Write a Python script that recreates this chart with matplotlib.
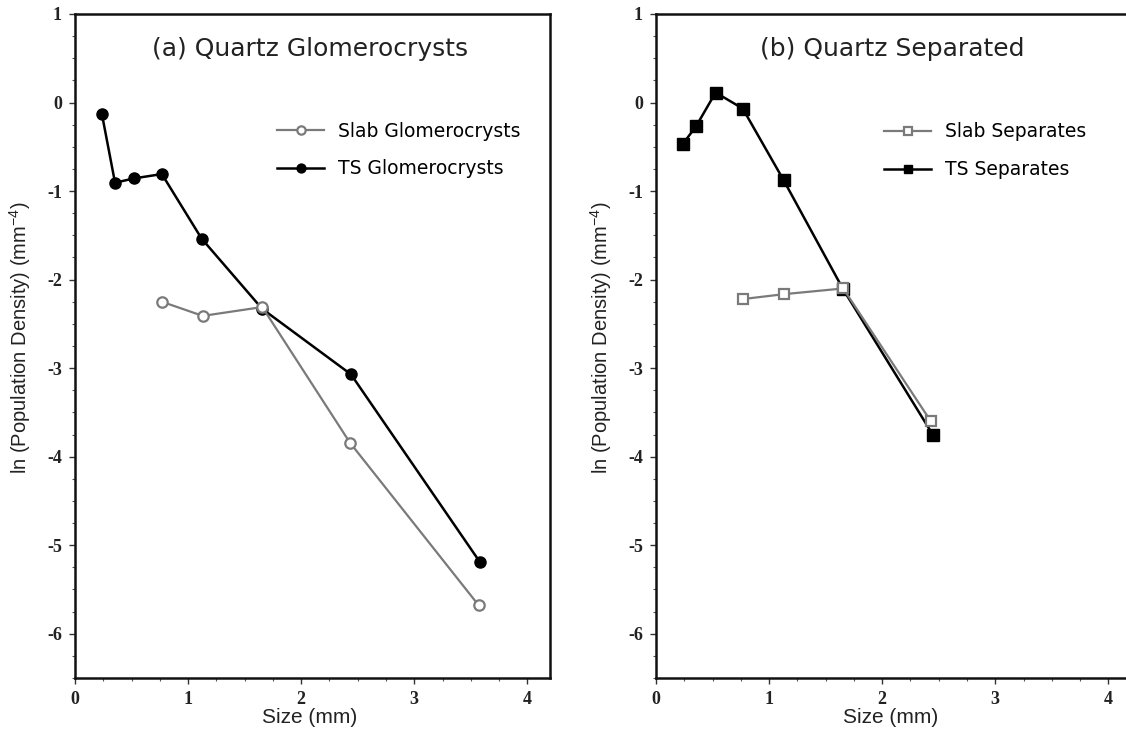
import matplotlib
matplotlib.use("Agg")
import matplotlib.pyplot as plt
from matplotlib.ticker import MultipleLocator

plt.rcParams['axes.unicode_minus'] = False
plt.rcParams['mathtext.default'] = 'regular'

# ---- data ----
ts_glom_x = [0.237, 0.354, 0.521, 0.768, 1.12, 1.655, 2.44, 3.58]
ts_glom_y = [-0.124, -0.906, -0.857, -0.808, -1.538, -2.33, -3.07, -5.19]
slab_glom_x = [0.768, 1.13, 1.656, 2.43, 3.57]
slab_glom_y = [-2.25, -2.41, -2.31, -3.84, -5.68]

ts_sep_x = [0.236, 0.355, 0.527, 0.767, 1.128, 1.655, 2.447]
ts_sep_y = [-0.47, -0.267, 0.113, -0.068, -0.876, -2.11, -3.75]
slab_sep_x = [0.767, 1.128, 1.655, 2.43]
slab_sep_y = [-2.22, -2.165, -2.10, -3.60]

titles = ["(a) Quartz Glomerocrysts", "(b) Quartz Separated"]
xticks = [0, 1, 2, 3, 4]
yticks = [1, 0, -1, -2, -3, -4, -5, -6]

W, H = 1126, 730
fig = plt.figure(figsize=(W / 100, H / 100), dpi=100)

def px_ax(left, right, top, bottom):
    return fig.add_axes([left / W, 1 - bottom / H, (right - left) / W, (bottom - top) / H])

ax1 = px_ax(75, 550, 14, 678)
ax2 = px_ax(656, 1131, 14, 678)

gray = '#7a7a7a'
title_font = dict(family='DejaVu Sans', size=18, color='#222222')
legend_font = {'family': 'DejaVu Sans', 'size': 13.5}

def style(ax, ylabel_x):
    ax.set_xlim(0, 4.2)
    ax.set_ylim(-6.5, 1)
    ax.set_xticks(xticks)
    ax.set_yticks(yticks)
    ax.xaxis.set_minor_locator(MultipleLocator(0.25))
    ax.yaxis.set_minor_locator(MultipleLocator(0.25))
    ax.tick_params(which='major', direction='out', length=4.5, width=1.0, color='#333333', pad=5)
    ax.tick_params(which='minor', direction='out', length=2.5, width=0.8, color='#555555')
    for lab in ax.get_xticklabels() + ax.get_yticklabels():
        lab.set_fontfamily('Liberation Serif')
        lab.set_fontweight('bold')
        lab.set_fontsize(13)
        lab.set_color('#222222')
    for s in ax.spines.values():
        s.set_linewidth(1.8)
        s.set_color('#111111')
    ax.set_xlabel('Size (mm)', fontfamily='Liberation Sans', fontsize=15, color='#222222')
    ax.set_ylabel('ln (Population Density) (mm$^{-4}$)', fontfamily='Liberation Sans',
                  fontsize=14.5, color='#222222')
    ax.xaxis.set_label_coords(0.493, -0.045)
    ax.yaxis.set_label_coords(ylabel_x, 0.512)

# Panel (a)
ax1.plot(slab_glom_x, slab_glom_y, '-o', color=gray, lw=1.6, ms=7.5,
         mfc='white', mec=gray, mew=1.6, label='Slab Glomerocrysts', zorder=3)
ax1.plot(ts_glom_x, ts_glom_y, '-o', color='black', lw=1.8, ms=8,
         mfc='black', mec='black', label='TS Glomerocrysts', zorder=2)
ax1.text(2.08, 0.6, titles[0], ha='center', va='center', **title_font)
style(ax1, -0.088)
ax1.legend(loc='center left', bbox_to_anchor=(1.79 / 4.2, (-0.535 + 6.5) / 7.5),
           frameon=False, prop=legend_font, handlelength=2.5, handletextpad=0.75,
           labelspacing=1.0, borderpad=0, borderaxespad=0, markerscale=0.8)

# Panel (b)
ax2.plot(slab_sep_x, slab_sep_y, '-s', color=gray, lw=1.6, ms=7.5,
         mfc='white', mec=gray, mew=1.6, label='Slab Separates', zorder=3)
ax2.plot(ts_sep_x, ts_sep_y, '-s', color='black', lw=1.8, ms=8,
         mfc='black', mec='black', label='TS Separates', zorder=2)
ax2.text(2.09, 0.6, titles[1], ha='center', va='center', **title_font)
style(ax2, -0.088)
ax2.legend(loc='center left', bbox_to_anchor=(2.02 / 4.2, (-0.545 + 6.5) / 7.5),
           frameon=False, prop=legend_font, handlelength=2.5, handletextpad=0.75,
           labelspacing=1.0, borderpad=0, borderaxespad=0, markerscale=0.8)

fig.savefig('out.png', dpi=100)
